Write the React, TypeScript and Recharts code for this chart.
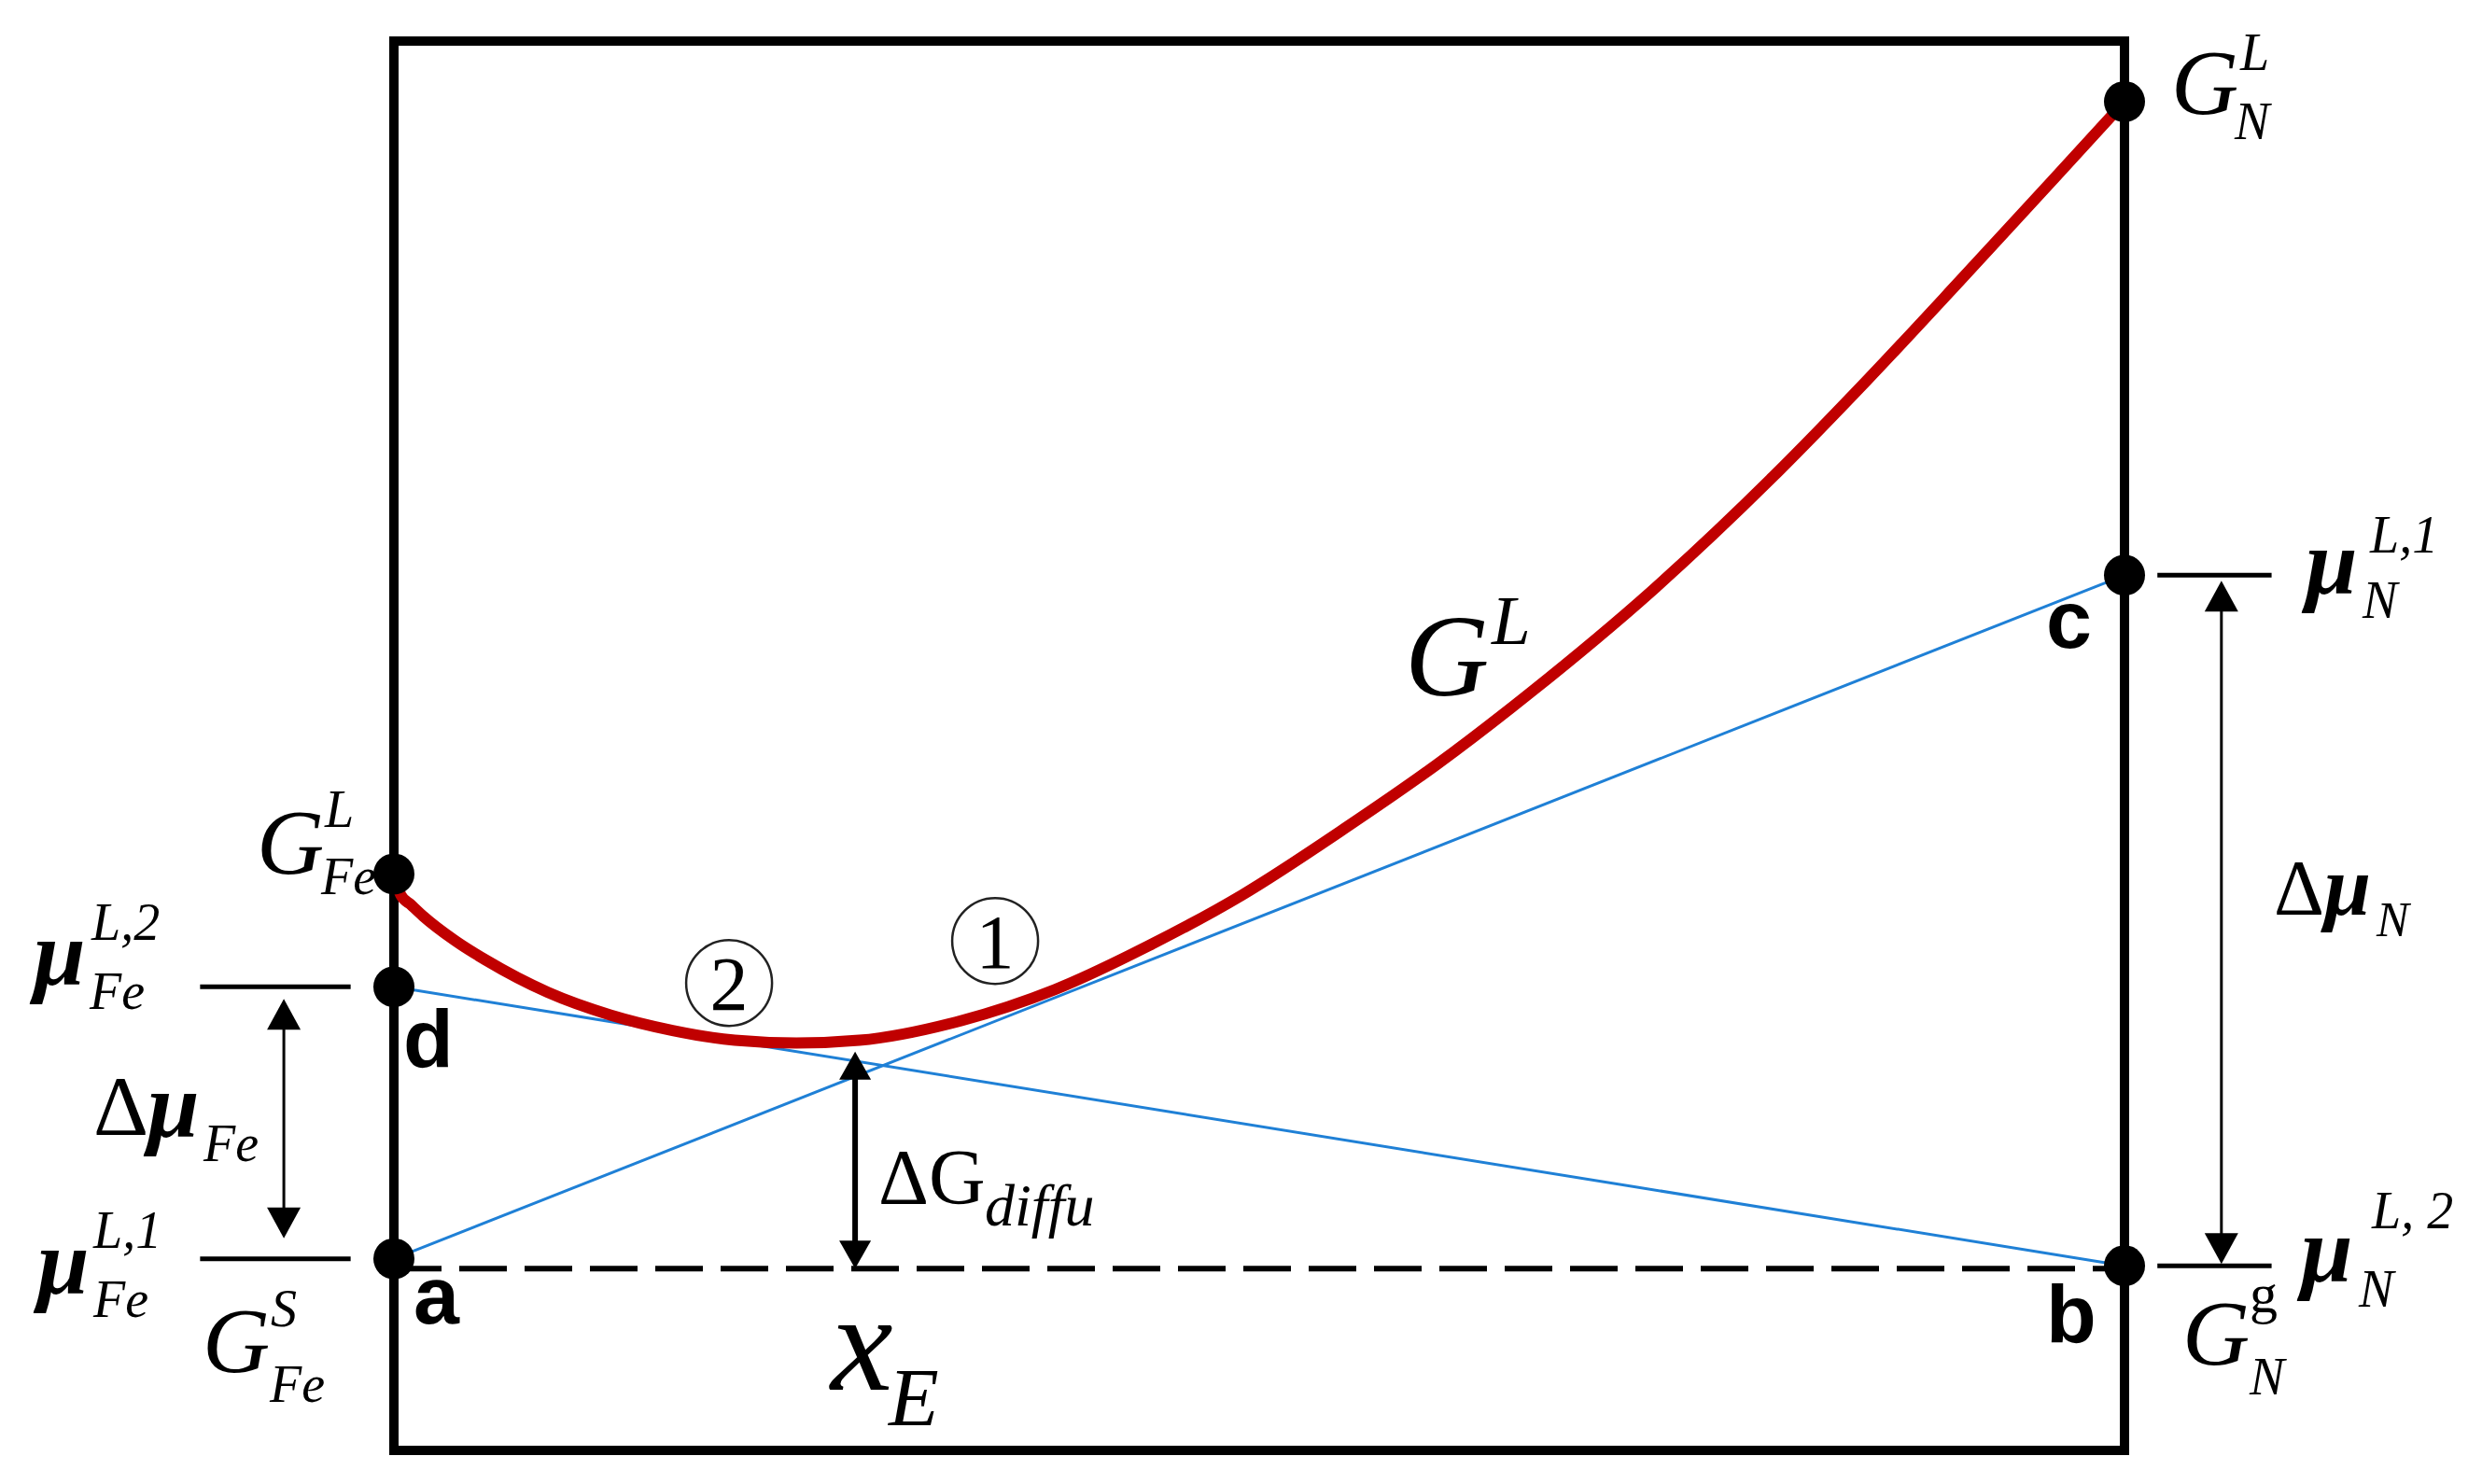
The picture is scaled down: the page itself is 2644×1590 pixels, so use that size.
import React from 'react';
import {
  ComposedChart,
  Line,
  XAxis,
  YAxis,
  ReferenceArea,
  ReferenceLine,
  ReferenceDot,
} from 'recharts';

// composition (mole fraction of N): 0 = pure Fe, 1 = pure N
const xN = [0, 0.004, 0.01, 0.017, 0.035, 0.053, 0.089, 0.125, 0.161, 0.197, 0.2325, 0.269, 0.328, 0.382, 0.436, 0.49, 0.549, 0.603, 0.657, 0.727, 0.797, 0.851, 0.905, 0.959, 1];
// Gibbs energy of the liquid, arbitrary units
const gLiquid = [40.9, 39.4, 38.7, 37.9, 36.2, 34.8, 32.5, 30.9, 29.8, 29.1, 28.9, 29.1, 30.5, 32.7, 35.8, 39.4, 44.1, 48.7, 53.8, 61.0, 69.1, 75.9, 83.0, 90.2, 95.7];

// tangent lines, values at x = 0 and x = 1
const xEnds = [0, 1];
const tangentAC = [13.6, 62.1]; // mu_Fe^{L,1} -> mu_N^{L,1}
const tangentDB = [32.9, 13.1]; // mu_Fe^{L,2} -> mu_N^{L,2}

// pure-component values
const G_FE_L = 40.9;
const G_N_L = 95.7;
const G_BASE = 12.9; // dashed reference line (G_Fe^S ... G_N^g)
const X_E = 0.2665;
const G_AT_XE = 28.3;

// short level marks outside the frame and arrow positions (x units)
const TICK_L = [-0.112, -0.025];
const TICK_R = [1.019, 1.085];
const ARROW_FE_X = -0.0636;
const ARROW_N_X = 1.056;
const LABEL_CURVE_X = 0.657;
const LABEL_CURVE_G = 53.8;

const SERIF = "'Liberation Serif', 'Times New Roman', serif";
const SANS = "'Liberation Sans', Arial, sans-serif";
const RED = '#c00000';
const BLUE = '#1f80d6';

type Piece = { t: string; dx: number; dy: number; s: number; f?: 'i' | 'n' | 'bi' | 'sb' };

const Tex = (props: any) => {
  const { viewBox, pieces } = props;
  if (!viewBox) return null;
  const cx = viewBox.x + (viewBox.width || 0) / 2;
  const cy = viewBox.y + (viewBox.height || 0) / 2;
  return (
    <g>
      {pieces.map((p: Piece, i: number) => {
        const f = p.f || 'i';
        return (
          <text
            key={i}
            x={cx + p.dx}
            y={cy + p.dy}
            fontSize={p.s}
            fontFamily={f === 'sb' ? SANS : SERIF}
            fontStyle={f === 'i' || f === 'bi' ? 'italic' : 'normal'}
            fontWeight={f === 'bi' || f === 'sb' ? 700 : 400}
            fill="#000"
          >
            {p.t}
          </text>
        );
      })}
    </g>
  );
};

const Circled = (props: any) => {
  const { viewBox, items } = props;
  if (!viewBox) return null;
  const cx = viewBox.x + (viewBox.width || 0) / 2;
  const cy = viewBox.y + (viewBox.height || 0) / 2;
  return (
    <g>
      {items.map((c: any, i: number) => (
        <g key={i}>
          <circle cx={cx + c.dx} cy={cy + c.dy} r={46} fill="none" stroke="#222" strokeWidth={2.5} />
          <text x={cx + c.dx} y={cy + c.dy + 29} textAnchor="middle" fontSize={82} fontFamily={SERIF} fill="#000">
            {c.t}
          </text>
        </g>
      ))}
    </g>
  );
};

// vertical double-headed arrow drawn on a reference segment
const arrowShape = (head: number, headW: number, lw: number, insetTop: number, insetBot: number) => (p: any) => {
  const x = p.x1;
  const top = Math.min(p.y1, p.y2) + insetTop;
  const bot = Math.max(p.y1, p.y2) - insetBot;
  return (
    <g>
      <line x1={x} y1={top + head - 2} x2={x} y2={bot - head + 2} stroke="#000" strokeWidth={lw} />
      <polygon points={`${x},${top} ${x - headW / 2},${top + head} ${x + headW / 2},${top + head}`} fill="#000" />
      <polygon points={`${x},${bot} ${x - headW / 2},${bot - head} ${x + headW / 2},${bot - head}`} fill="#000" />
    </g>
  );
};

const anchor = (key: string, x: number, y: number, label: React.ReactElement) => (
  <ReferenceDot key={key} x={x} y={y} r={0} fill="none" stroke="none" ifOverflow="visible" label={label} />
);

export default function App() {
  const curve = xN.map((x, i) => ({ x, g: gLiquid[i] }));

  const dots = [
    { x: xEnds[0], y: G_FE_L },
    { x: xEnds[0], y: tangentDB[0] },
    { x: xEnds[0], y: tangentAC[0] },
    { x: xEnds[1], y: G_N_L },
    { x: xEnds[1], y: tangentAC[1] },
    { x: xEnds[1], y: tangentDB[1] },
  ];

  return (
    <div style={{ position: 'absolute', left: 0, top: 0, width: 2644, height: 1590, background: '#fff' }}>
      <ComposedChart width={2644} height={1590} margin={{ top: 44, right: 368, bottom: 36, left: 422 }}>
        <XAxis type="number" dataKey="x" domain={[0, 1]} hide />
        <YAxis type="number" domain={[0, 100]} hide />

        <ReferenceArea x1={0} x2={1} y1={0} y2={100} fill="none" stroke="#000" strokeWidth={10} ifOverflow="visible" />

        <ReferenceLine
          segment={[{ x: xEnds[0], y: tangentAC[0] }, { x: xEnds[1], y: tangentAC[1] }]}
          stroke={BLUE}
          strokeWidth={3}
          ifOverflow="visible"
        />
        <ReferenceLine
          segment={[{ x: xEnds[0], y: tangentDB[0] }, { x: xEnds[1], y: tangentDB[1] }]}
          stroke={BLUE}
          strokeWidth={3}
          ifOverflow="visible"
        />

        <Line
          data={curve}
          dataKey="g"
          type="monotone"
          stroke={RED}
          strokeWidth={12}
          dot={false}
          activeDot={false}
          isAnimationActive={false}
        />

        <ReferenceLine
          segment={[{ x: xEnds[0], y: G_BASE }, { x: xEnds[1], y: G_BASE }]}
          stroke="#000"
          strokeWidth={6}
          strokeDasharray="51 19"
          ifOverflow="visible"
        />

        {/* level marks */}
        {[tangentDB[0], tangentAC[0]].map((y, i) => (
          <ReferenceLine key={`tl${i}`} segment={[{ x: TICK_L[0], y }, { x: TICK_L[1], y }]} stroke="#000" strokeWidth={5} ifOverflow="visible" />
        ))}
        {[tangentAC[1], tangentDB[1]].map((y, i) => (
          <ReferenceLine key={`tr${i}`} segment={[{ x: TICK_R[0], y }, { x: TICK_R[1], y }]} stroke="#000" strokeWidth={5} ifOverflow="visible" />
        ))}

        {/* arrows */}
        <ReferenceLine
          segment={[{ x: ARROW_FE_X, y: tangentDB[0] }, { x: ARROW_FE_X, y: tangentAC[0] }]}
          ifOverflow="visible"
          shape={arrowShape(33, 36, 3, 13, 22)}
        />
        <ReferenceLine
          segment={[{ x: ARROW_N_X, y: tangentAC[1] }, { x: ARROW_N_X, y: tangentDB[1] }]}
          ifOverflow="visible"
          shape={arrowShape(33, 36, 3, 6, 2)}
        />
        <ReferenceLine
          segment={[{ x: X_E, y: G_AT_XE }, { x: X_E, y: G_BASE }]}
          ifOverflow="visible"
          shape={arrowShape(30, 34, 6, 0, 0)}
        />

        {dots.map((d, i) => (
          <ReferenceDot key={`d${i}`} x={d.x} y={d.y} r={22} fill="#000" stroke="none" ifOverflow="visible" />
        ))}

        {/* labels */}
        {anchor('lGFeL', xEnds[0], G_FE_L, (
          <Tex pieces={[
            { t: 'G', dx: -147, dy: 0, s: 100 },
            { t: 'L', dx: -74, dy: -50, s: 56 },
            { t: 'Fe', dx: -78, dy: 22, s: 56 },
          ]} />
        ))}
        {anchor('ld', xEnds[0], tangentDB[0], (
          <Tex pieces={[
            { t: 'μ', dx: -386, dy: -2, s: 100, f: 'bi' },
            { t: 'L,2', dx: -324, dy: -50, s: 56 },
            { t: 'Fe', dx: -326, dy: 24, s: 56 },
            { t: 'd', dx: 10, dy: 86, s: 88, f: 'sb' },
          ]} />
        ))}
        {anchor('la', xEnds[0], tangentAC[0], (
          <Tex pieces={[
            { t: 'μ', dx: -382, dy: 37, s: 100, f: 'bi' },
            { t: 'L,1', dx: -322, dy: -12, s: 56 },
            { t: 'Fe', dx: -322, dy: 62, s: 56 },
            { t: 'Δ', dx: -322, dy: -133, s: 92, f: 'n' },
            { t: 'μ', dx: -264, dy: -131, s: 100, f: 'bi' },
            { t: 'Fe', dx: -204, dy: -105, s: 56 },
            { t: 'G', dx: -205, dy: 121, s: 100 },
            { t: 'S', dx: -132, dy: 72, s: 56 },
            { t: 'Fe', dx: -133, dy: 153, s: 56 },
            { t: 'a', dx: 21, dy: 69, s: 88, f: 'sb' },
          ]} />
        ))}
        {anchor('lGNL', xEnds[1], G_N_L, (
          <Tex pieces={[
            { t: 'G', dx: 50, dy: 13, s: 100 },
            { t: 'L', dx: 124, dy: -34, s: 56 },
            { t: 'N', dx: 118, dy: 40, s: 56 },
          ]} />
        ))}
        {anchor('lc', xEnds[1], tangentAC[1], (
          <Tex pieces={[
            { t: 'μ', dx: 194, dy: 20, s: 100, f: 'bi' },
            { t: 'L,1', dx: 263, dy: -24, s: 56 },
            { t: 'N', dx: 255, dy: 46, s: 56 },
            { t: 'c', dx: -84, dy: 78, s: 88, f: 'sb' },
            { t: 'Δ', dx: 160, dy: 364, s: 84, f: 'n' },
            { t: 'μ', dx: 214, dy: 364, s: 90, f: 'bi' },
            { t: 'N', dx: 270, dy: 387, s: 52 },
          ]} />
        ))}
        {anchor('lb', xEnds[1], tangentDB[1], (
          <Tex pieces={[
            { t: 'μ', dx: 189, dy: 17, s: 100, f: 'bi' },
            { t: 'L, 2', dx: 265, dy: -40, s: 56 },
            { t: 'N', dx: 251, dy: 44, s: 56 },
            { t: 'b', dx: -84, dy: 82, s: 88, f: 'sb' },
            { t: 'G', dx: 62, dy: 106, s: 100 },
            { t: 'g', dx: 134, dy: 50, s: 60, f: 'n' },
            { t: 'N', dx: 134, dy: 138, s: 56 },
          ]} />
        ))}
        {anchor('lGL', LABEL_CURVE_X, LABEL_CURVE_G, (
          <Tex pieces={[
            { t: 'G', dx: -135, dy: 3, s: 125 },
            { t: 'L', dx: -42, dy: -52, s: 75 },
          ]} />
        ))}
        {anchor('lxE', X_E, G_BASE, (
          <Tex pieces={[
            { t: 'ΔG', dx: 25, dy: -69, s: 84, f: 'n' },
            { t: 'diffu', dx: 139, dy: -46, s: 64 },
            { t: 'x', dx: -26, dy: 130, s: 150 },
            { t: 'E', dx: 36, dy: 168, s: 88 },
          ]} />
        ))}
        <ReferenceDot
          x={X_E}
          y={G_BASE}
          r={0}
          fill="none"
          stroke="none"
          ifOverflow="visible"
          label={<Circled items={[{ t: '2', dx: -135, dy: -306 }, { t: '1', dx: 150, dy: -351 }]} />}
        />
      </ComposedChart>
    </div>
  );
}
